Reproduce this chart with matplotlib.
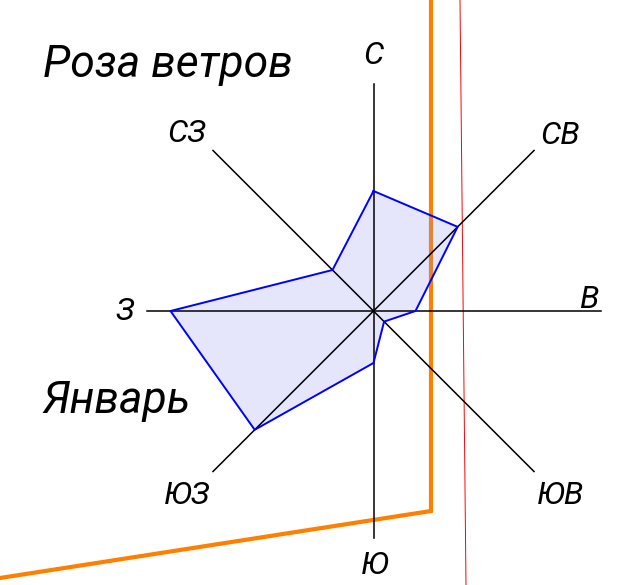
import numpy as np
import matplotlib
matplotlib.use("Agg")
import matplotlib.pyplot as plt
from matplotlib import font_manager

# ── Данные розы ветров (январь) ───────────────────────────────────────────────
directions = ["С", "СВ", "В", "ЮВ", "Ю", "ЮЗ", "З", "СЗ"]
angles_deg = [0, 45, 90, 135, 180, 225, 270, 315]
radii = [120, 119, 42, 15, 52, 168, 203, 58]

title_text = "Роза ветров"
month_text = "Январь"

# ── Оформление ───────────────────────────────────────────────────────────────
CENTER = (373.5, 311.0)
AXIS_LEN = 227
LABEL_OFFSET = {
    "С": (0, -255), "СВ": (187, -176), "В": (215, -11), "ЮВ": (187, 184),
    "Ю": (1, 254), "ЮЗ": (-186, 184), "З": (-249, 1), "СЗ": (-187, -177),
}
frame_x = [431, 431, 0]
frame_y = [0, 511, 578]
red_x = [460, 466]
red_y = [0, 585]

names = {f.name for f in font_manager.fontManager.ttflist}
if "Roboto" in names:
    FONT = dict(family="Roboto", style="italic")
else:
    FONT = dict(family="DejaVu Sans", style="italic")

fig = plt.figure(figsize=(6.35, 5.85), dpi=100)
ax = fig.add_axes([0, 0, 1, 1])
ax.set_xlim(0, 635)
ax.set_ylim(585, 0)
ax.set_aspect("equal")
ax.axis("off")

cx, cy = CENTER
th = np.deg2rad(angles_deg)

# рамка чертежа
ax.plot(frame_x, frame_y, color="#FF8000", lw=3.0, zorder=1, solid_joinstyle="miter")
ax.plot(red_x, red_y, color="#FF0000", lw=0.7, zorder=1)

# оси направлений
for a in th:
    ax.plot([cx, cx + AXIS_LEN * np.sin(a)], [cy, cy - AXIS_LEN * np.cos(a)],
            color="black", lw=1.1, zorder=3)

# многоугольник розы
r = np.array(radii)
px = cx + r * np.sin(th)
py = cy - r * np.cos(th)
ax.fill(px, py, color=(0.55, 0.55, 0.95), alpha=0.22, lw=0, zorder=2)
ax.plot(np.append(px, px[0]), np.append(py, py[0]), color="#0000FF", lw=1.4, zorder=4)

for d in directions:
    dx, dy = LABEL_OFFSET[d]
    ax.text(cx + dx, cy + dy, d, fontsize=23, ha="center", va="center", **FONT)

ax.text(43, 77, title_text, fontsize=32, ha="left", va="baseline", **FONT)
ax.text(43, 413, month_text, fontsize=32, ha="left", va="baseline", **FONT)

fig.savefig("out.png", dpi=100, facecolor="white")
plt.close(fig)
